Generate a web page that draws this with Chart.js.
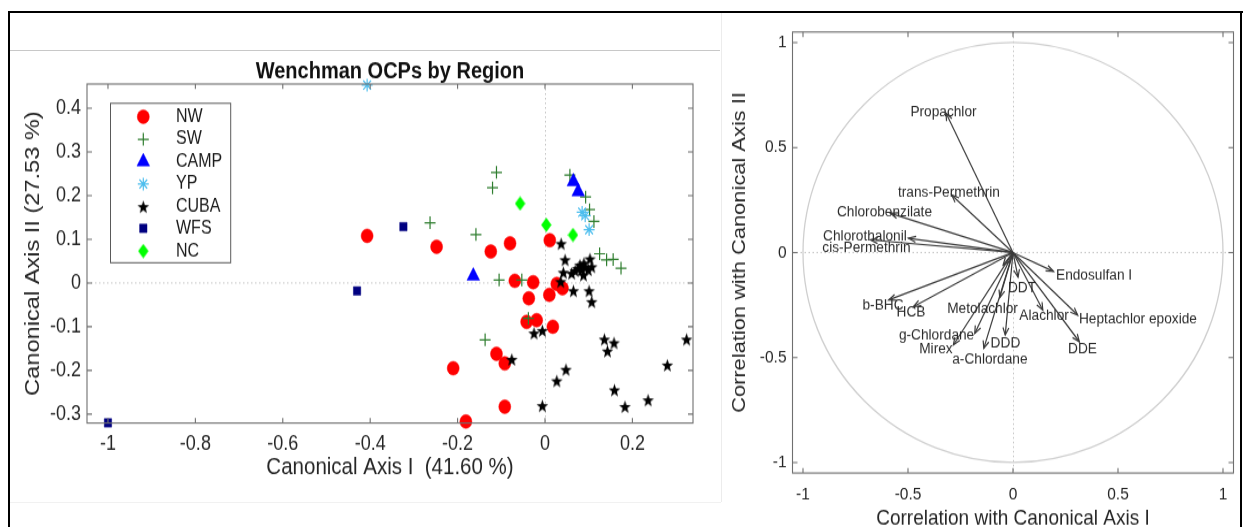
<!DOCTYPE html>
<html>
<head>
<meta charset="utf-8">
<title>Wenchman OCPs by Region</title>
<script src="https://cdn.jsdelivr.net/npm/chart.js@4.4.1/dist/chart.umd.min.js"></script>
<style>
  html, body { margin: 0; padding: 0; background: #fff; width: 1243px; height: 527px; overflow: hidden; }
  .rule { position: absolute; }
  canvas.panel { position: absolute; top: 0; transform-origin: 0 0; transform: scaleY(1.150655); }
</style>
</head>
<body>
<!-- page frame -->
<div class="rule" style="left:8px;top:11px;width:1235px;height:2px;background:#000"></div>
<div class="rule" style="left:8px;top:11px;width:2px;height:516px;background:#000"></div>
<div class="rule" style="left:1240px;top:11px;width:2px;height:516px;background:#000"></div>
<div class="rule" style="left:10px;top:50px;width:710px;height:1px;background:#c8c8c8"></div>
<div class="rule" style="left:721px;top:13px;width:1px;height:489px;background:#ececec"></div>
<div class="rule" style="left:10px;top:502px;width:711px;height:1px;background:#f1f1f1"></div>

<canvas id="regions" class="panel" width="725" height="458" style="left:0px"></canvas>
<canvas id="loadings" class="panel" width="518" height="458" style="left:725px"></canvas>

<script>
// ---------------- canonical scores of each sample, grouped by region ----------------
const regionNames = ['NW', 'SW', 'CAMP', 'YP', 'CUBA', 'WFS', 'NC'];

const nwX = [-0.407, -0.248, -0.124, -0.080, 0.011, -0.069, -0.027, 0.027, 0.040, 0.010, -0.037, -0.042, -0.019, 0.018, -0.111, -0.092, -0.210, -0.092, -0.181];
const nwY = [0.108, 0.083, 0.072, 0.091, 0.098, 0.005, 0.002, -0.002, -0.012, -0.027, -0.035, -0.089, -0.085, -0.100, -0.162, -0.184, -0.195, -0.283, -0.317];

const swX = [-0.111, -0.120, -0.263, -0.158, -0.105, -0.053, 0.057, 0.093, 0.102, 0.112, 0.125, 0.141, 0.156, 0.174, -0.038, -0.137];
const swY = [0.253, 0.218, 0.138, 0.111, 0.007, 0.007, 0.247, 0.197, 0.168, 0.141, 0.067, 0.053, 0.054, 0.034, -0.081, -0.130];

const campX = [0.065, 0.076, -0.164];
const campY = [0.232, 0.209, 0.016];

const ypX = [-0.407, 0.085, 0.092, 0.101];
const ypY = [0.453, 0.162, 0.154, 0.122];

const cubaX = [0.037, 0.046, 0.042, 0.061, 0.069, 0.080, 0.084, 0.088, 0.089, 0.092, 0.099, 0.103, 0.107, 0.075, 0.036, 0.065, 0.101, 0.107, -0.025, -0.006, -0.076, 0.136, 0.158, 0.143, 0.324, 0.280, 0.048, 0.027, 0.159, 0.183, 0.236, -0.006];
const cubaY = [0.090, 0.053, 0.024, 0.022, 0.028, 0.041, 0.030, 0.018, 0.045, 0.036, 0.030, 0.055, 0.037, 0.033, 0.003, -0.018, -0.018, -0.043, -0.115, -0.109, -0.175, -0.129, -0.137, -0.156, -0.129, -0.188, -0.198, -0.224, -0.245, -0.283, -0.268, -0.281];

const wfsX = [-0.324, -0.430, -1.000];
const wfsY = [0.129, -0.018, -0.320];

const ncX = [-0.057, 0.003, 0.064];
const ncY = [0.182, 0.133, 0.110];

const scoreTicksX = [-1, -0.8, -0.6, -0.4, -0.2, 0, 0.2];
const scoreTickLabelsX = ['-1', '-0.8', '-0.6', '-0.4', '-0.2', '0', '0.2'];
const scoreTicksY = [-0.3, -0.2, -0.1, 0, 0.1, 0.2, 0.3, 0.4];
const scoreTickLabelsY = ['-0.3', '-0.2', '-0.1', '0', '0.1', '0.2', '0.3', '0.4'];

// ---------------- correlations of each compound with the canonical axes ----------------
const compounds = ['Propachlor', 'trans-Permethrin', 'Chlorobenzilate', 'Chlorothalonil', 'cis-Permethrin', 'Endosulfan I', 'DDT', '', 'b-BHC', 'HCB', 'Metolachlor', 'Alachlor', 'Heptachlor epoxide', 'DDE', 'DDD', 'g-Chlordane', 'Mirex', 'a-Chlordane'];
const corrX = [-0.319, -0.292, -0.584, -0.498, -0.679, 0.193, 0.024, -0.047, -0.592, -0.474, -0.063, 0.142, 0.308, 0.316, -0.037, -0.182, -0.284, -0.139];
const corrY = [0.664, 0.274, 0.187, 0.068, 0.060, -0.090, -0.117, -0.060, -0.226, -0.258, -0.214, -0.274, -0.298, -0.425, -0.393, -0.385, -0.440, -0.456];
// where each compound name is written (centre of the text, in correlation units)
const nameX = [-0.331, -0.305, -0.612, -0.705, -0.698, 0.386, 0.043, 0, -0.619, -0.486, -0.145, 0.148, 0.595, 0.331, -0.036, -0.364, -0.367, -0.110];
const nameY = [0.669, 0.285, 0.194, 0.079, 0.025, -0.107, -0.168, 0, -0.253, -0.283, -0.269, -0.302, -0.317, -0.461, -0.430, -0.393, -0.461, -0.507];

const corrTicks = [-1, -0.5, 0, 0.5, 1];
const corrTickLabels = ['-1', '-0.5', '0', '0.5', '1'];

// ---------------- shared setup ----------------
const S = 527 / 458;               // vertical stretch applied to both canvases
const FONT = "'Liberation Sans', Arial, Helvetica, sans-serif";
Chart.defaults.font.family = FONT;
Chart.defaults.color = '#262626';

const pts = (xs, ys) => xs.map((x, i) => ({ x: x, y: ys[i] }));

function shapeImage(w, h, draw) {
  const c = document.createElement('canvas');
  c.width = w; c.height = h;
  draw(c.getContext('2d'), w, h);
  return c;
}
// filled five-pointed star
const starMark = shapeImage(13, 13, (g, w, h) => {
  const cx = w / 2, cy = h / 2 + 0.6, R = 6.1, r = 2.5;
  g.beginPath();
  for (let i = 0; i < 10; i++) {
    const a = -Math.PI / 2 + i * Math.PI / 5, rr = i % 2 ? r : R;
    g.lineTo(cx + rr * Math.cos(a), cy + rr * Math.sin(a));
  }
  g.closePath(); g.fillStyle = '#000'; g.fill();
});
// filled narrow diamond
const diamondMark = shapeImage(11, 13, (g, w, h) => {
  g.beginPath();
  g.moveTo(w / 2, 0.3); g.lineTo(w - 0.3, h / 2); g.lineTo(w / 2, h - 0.3); g.lineTo(0.3, h / 2);
  g.closePath(); g.fillStyle = '#00ff00'; g.fill();
});

function tickSetter(values) { return sc => { sc.ticks = values.map(v => ({ value: v })); }; }
function tickLabeler(values, labels) { return v => labels[values.indexOf(v)]; }

// dotted zero lines, box with inward ticks on all sides
function drawZeroLines(chart) {
  const { ctx, chartArea: a, scales: { x, y } } = chart;
  ctx.save();
  ctx.strokeStyle = '#c4c4c4'; ctx.lineWidth = 1; ctx.setLineDash([1.5, 2.5]);
  const px = Math.round(x.getPixelForValue(0)) + 0.5;
  const py = y.getPixelForValue(0);
  ctx.beginPath();
  ctx.moveTo(px, a.top); ctx.lineTo(px, a.bottom);
  ctx.moveTo(a.left, py); ctx.lineTo(a.right, py);
  ctx.stroke();
  ctx.restore();
}
function drawBox(chart) {
  const { ctx, chartArea: a, scales: { x, y } } = chart;
  const tl = 5;
  ctx.save();
  ctx.strokeStyle = '#6f6f6f'; ctx.lineWidth = 1.1;
  ctx.strokeRect(a.left, a.top, a.right - a.left, a.bottom - a.top);
  ctx.beginPath();
  x.ticks.forEach(t => {
    const p = x.getPixelForValue(t.value);
    ctx.moveTo(p, a.bottom); ctx.lineTo(p, a.bottom - tl / S);
    ctx.moveTo(p, a.top); ctx.lineTo(p, a.top + tl / S);
  });
  y.ticks.forEach(t => {
    const p = y.getPixelForValue(t.value);
    ctx.moveTo(a.left, p); ctx.lineTo(a.left + tl, p);
    ctx.moveTo(a.right, p); ctx.lineTo(a.right - tl, p);
  });
  ctx.stroke();
  ctx.restore();
}
function text(ctx, str, x, y, font, color, align, rot) {
  ctx.save();
  ctx.translate(x, y);
  if (rot) ctx.rotate(rot);
  ctx.font = font; ctx.fillStyle = color;
  ctx.textAlign = align || 'center'; ctx.textBaseline = 'middle';
  ctx.fillText(str, 0, 0);
  ctx.restore();
}

// ---------------- left panel: scores by region ----------------
const L = { left: 87, right: 693, top: 84, bottom: 423 };   // plot box on the page
const regionData = [[nwX, nwY], [swX, swY], [campX, campY], [ypX, ypY], [cubaX, cubaY], [wfsX, wfsY], [ncX, ncY]];
const regionLook = [
  { pointStyle: 'circle',   pointRadius: 6,   pointBackgroundColor: '#ff0000', pointBorderColor: '#ff0000', pointBorderWidth: 0.5 },
  { pointStyle: 'cross',    pointRadius: 5.5, pointBackgroundColor: 'rgba(0,0,0,0)', pointBorderColor: '#2e7d2e', pointBorderWidth: 1.2 },
  { pointStyle: 'triangle', pointRadius: 7.3, pointBackgroundColor: '#0000ff', pointBorderColor: '#0000ff', pointBorderWidth: 0.5 },
  { pointStyle: 'star',     pointRadius: 5.5, pointBackgroundColor: 'rgba(0,0,0,0)', pointBorderColor: '#4dbeee', pointBorderWidth: 1.2 },
  { pointStyle: starMark,   pointRadius: 6.5, pointBackgroundColor: '#000', pointBorderColor: '#000', pointBorderWidth: 0 },
  { pointStyle: 'rect',     pointRadius: 5.2, pointBackgroundColor: '#000080', pointBorderColor: '#000080', pointBorderWidth: 0.5 },
  { pointStyle: diamondMark, pointRadius: 6.5, pointBackgroundColor: '#00ff00', pointBorderColor: '#00ff00', pointBorderWidth: 0 }
];

const regionPanel = {
  id: 'regionPanel',
  beforeDatasetsDraw(chart) { drawZeroLines(chart); },
  afterDatasetsDraw(chart) { drawBox(chart); },
  afterDraw(chart) {
    const ctx = chart.ctx;
    text(ctx, 'Wenchman OCPs by Region', 390, 72 / S, 'bold 20px ' + FONT, '#111');
    text(ctx, 'Canonical Axis I  (41.60 %)', 390, 467 / S, '20.5px ' + FONT, '#262626');
    text(ctx, 'Canonical Axis II (27.53 %)', 33, ((L.top + L.bottom) / 2) / S, '20.5px ' + FONT, '#262626', 'center', -Math.PI / 2);

    // legend box in the upper-left corner of the plot
    ctx.save();
    ctx.fillStyle = '#fff';
    ctx.fillRect(110, 103.3 / S, 120.7, 159.4 / S);
    ctx.strokeStyle = '#5a5a5a'; ctx.lineWidth = 1;
    ctx.strokeRect(110.5, 103.3 / S, 120.2, 159.4 / S);
    ctx.restore();
    const rowY = [116.7, 139.3, 161.7, 184, 206.7, 228.3, 251];
    chart.data.datasets.forEach((ds, i) => {
      const el = chart.getDatasetMeta(i).data[0];
      const ox = el.x, oy = el.y;
      el.x = 143.3; el.y = rowY[i] / S;
      el.draw(ctx);
      el.x = ox; el.y = oy;
      text(ctx, ds.label, 176, rowY[i] / S, '16px ' + FONT, '#1a1a1a', 'left');
    });
  }
};

new Chart(document.getElementById('regions'), {
  type: 'scatter',
  data: {
    datasets: regionData.map((d, i) => Object.assign({
      label: regionNames[i],
      data: pts(d[0], d[1]),
      clip: false,
      order: 10 - i
    }, regionLook[i]))
  },
  options: {
    responsive: false,
    animation: false,
    events: [],
    layout: { padding: { left: 0, top: L.top / S, right: 725 - L.right, bottom: 0 } },
    plugins: { legend: { display: false }, tooltip: { enabled: false }, title: { display: false } },
    scales: {
      x: {
        type: 'linear', position: 'bottom', min: -1.048, max: 0.3387,
        afterBuildTicks: tickSetter(scoreTicksX),
        afterFit: sc => { sc.height = 458 - L.bottom / S; },
        grid: { display: false, drawTicks: false }, border: { display: false },
        ticks: { padding: 7.5, font: { size: 18 }, color: '#262626', maxRotation: 0, autoSkip: false,
                 callback: tickLabeler(scoreTicksX, scoreTickLabelsX) }
      },
      y: {
        type: 'linear', position: 'left', min: -0.3204, max: 0.4554,
        afterBuildTicks: tickSetter(scoreTicksY),
        afterFit: sc => { sc.width = L.left; },
        grid: { display: false, drawTicks: false }, border: { display: false },
        ticks: { padding: 6, font: { size: 18 }, color: '#262626', autoSkip: false,
                 callback: tickLabeler(scoreTicksY, scoreTickLabelsY) }
      }
    }
  },
  plugins: [regionPanel]
});

// ---------------- right panel: correlation circle ----------------
const R = { left: 792.5, right: 1233.5, top: 32, bottom: 473, offset: 725 };

const loadingPanel = {
  id: 'loadingPanel',
  beforeDatasetsDraw(chart) {
    const { ctx, scales: { x, y } } = chart;
    drawZeroLines(chart);
    // unit circle
    const cx = x.getPixelForValue(0), cy = y.getPixelForValue(0);
    const rx = x.getPixelForValue(1) - cx, ry = cy - y.getPixelForValue(1);
    ctx.save();
    ctx.strokeStyle = '#cfcfcf'; ctx.lineWidth = 1.3;
    ctx.beginPath(); ctx.ellipse(cx, cy, rx, ry, 0, 0, Math.PI * 2); ctx.stroke();
    ctx.restore();
  },
  afterDatasetsDraw(chart) {
    const { ctx, scales: { x, y } } = chart;
    // open arrow heads at the tip of every vector
    ctx.save();
    ctx.strokeStyle = '#3a3a3a'; ctx.lineWidth = 1.2;
    chart.data.datasets.forEach((ds, i) => {
      const pts2 = chart.getDatasetMeta(i).data;
      const x0 = pts2[0].x, y0 = pts2[0].y * S, x1 = pts2[1].x, y1 = pts2[1].y * S;
      const ang = Math.atan2(y1 - y0, x1 - x0), len = 8, spread = 0.38;
      ctx.beginPath();
      ctx.moveTo(x1 - len * Math.cos(ang - spread), (y1 - len * Math.sin(ang - spread)) / S);
      ctx.lineTo(x1, y1 / S);
      ctx.lineTo(x1 - len * Math.cos(ang + spread), (y1 - len * Math.sin(ang + spread)) / S);
      ctx.stroke();
    });
    ctx.restore();
    compounds.forEach((name, i) => {
      if (!name) return;
      text(ctx, name, x.getPixelForValue(nameX[i]), y.getPixelForValue(nameY[i]), '13.7px ' + FONT, '#2b2b2b');
    });
    drawBox(chart);
  },
  afterDraw(chart) {
    const ctx = chart.ctx;
    const midX = (R.left + R.right) / 2 - R.offset;
    text(ctx, 'Correlation with Canonical Axis I', midX, 519 / S, '19px ' + FONT, '#262626');
    text(ctx, 'Correlation with Canonical Axis II', 740 - R.offset, ((R.top + R.bottom) / 2) / S, '19px ' + FONT, '#262626', 'center', -Math.PI / 2);
  }
};

new Chart(document.getElementById('loadings'), {
  type: 'scatter',
  data: {
    datasets: compounds.map((name, i) => ({
      label: name,
      data: [{ x: 0, y: 0 }, { x: corrX[i], y: corrY[i] }],
      showLine: true,
      borderColor: '#3a3a3a',
      borderWidth: 1.2,
      pointRadius: 0,
      clip: false
    }))
  },
  options: {
    responsive: false,
    animation: false,
    events: [],
    layout: { padding: { left: 0, top: R.top / S, right: 518 - (R.right - R.offset), bottom: 0 } },
    plugins: { legend: { display: false }, tooltip: { enabled: false }, title: { display: false } },
    scales: {
      x: {
        type: 'linear', position: 'bottom', min: -1.05, max: 1.05,
        afterBuildTicks: tickSetter(corrTicks),
        afterFit: sc => { sc.height = 458 - R.bottom / S; },
        grid: { display: false, drawTicks: false }, border: { display: false },
        ticks: { padding: 9, font: { size: 15.5 }, color: '#262626', maxRotation: 0, autoSkip: false,
                 callback: tickLabeler(corrTicks, corrTickLabels) }
      },
      y: {
        type: 'linear', position: 'left', min: -1.05, max: 1.05,
        afterBuildTicks: tickSetter(corrTicks),
        afterFit: sc => { sc.width = R.left - R.offset; },
        grid: { display: false, drawTicks: false }, border: { display: false },
        ticks: { padding: 6, font: { size: 15.5 }, color: '#262626', autoSkip: false,
                 callback: tickLabeler(corrTicks, corrTickLabels) }
      }
    }
  },
  plugins: [loadingPanel]
});
</script>
</body>
</html>
